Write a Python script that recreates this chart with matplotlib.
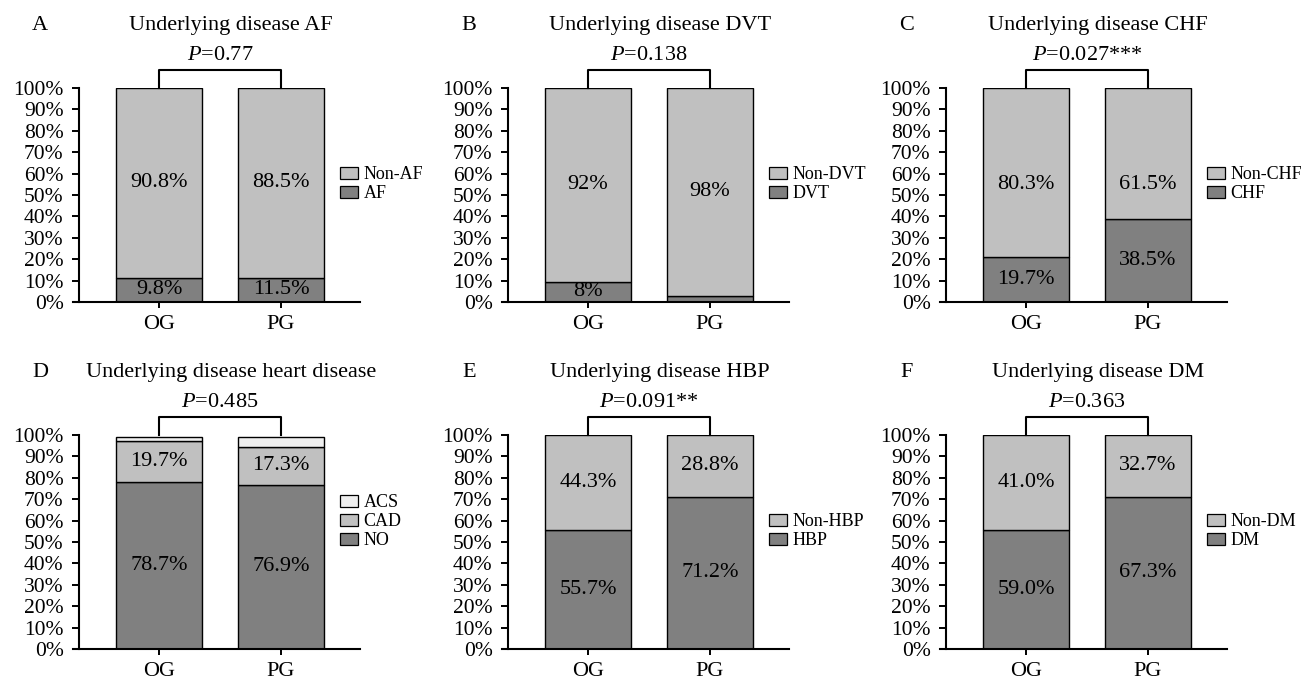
import matplotlib
matplotlib.use("Agg")
import matplotlib.pyplot as plt
from matplotlib.patches import Patch

plt.rcParams['font.family'] = ['Liberation Serif', 'DejaVu Serif']
plt.rcParams['mathtext.fontset'] = 'custom'
plt.rcParams['mathtext.it'] = 'Liberation Serif:italic'
plt.rcParams['mathtext.rm'] = 'Liberation Serif'

## Data (stack order: bottom -> top)
groups = ["OG", "PG"]

letters = ["A", "B", "C", "D", "E", "F"]
titles = ["Underlying disease AF", "Underlying disease DVT", "Underlying disease CHF",
          "Underlying disease heart disease", "Underlying disease HBP", "Underlying disease DM"]
pvalues = ["0.77", "0.138", "0.027***", "0.485", "0.091**", "0.363"]

seg_names = [["AF", "Non-AF"], ["DVT", "Non-DVT"], ["CHF", "Non-CHF"],
             ["NO", "CAD", "ACS"], ["HBP", "Non-HBP"], ["DM", "Non-DM"]]

# segment heights as drawn, per panel: [segment][group]
af_vals = [[11.4, 11.4], [88.6, 88.6]]
dvt_vals = [[9.4, 3.0], [90.6, 97.0]]
chf_vals = [[21.0, 38.8], [79.0, 61.2]]
heart_vals = [[77.9, 76.8], [19.3, 17.5], [1.9, 4.8]]
hbp_vals = [[55.7, 71.2], [44.3, 28.8]]
dm_vals = [[55.7, 71.2], [44.3, 28.8]]
panel_vals = [af_vals, dvt_vals, chf_vals, heart_vals, hbp_vals, dm_vals]

# printed labels, per panel: [segment][group]
af_labels = [["9.8%", "11.5%"], ["90.8%", "88.5%"]]
dvt_labels = [["8%", ""], ["92%", "98%"]]
chf_labels = [["19.7%", "38.5%"], ["80.3%", "61.5%"]]
heart_labels = [["78.7%", "76.9%"], ["19.7%", "17.3%"], ["", ""]]
hbp_labels = [["55.7%", "71.2%"], ["44.3%", "28.8%"]]
dm_labels = [["59.0%", "67.3%"], ["41.0%", "32.7%"]]
panel_labels = [af_labels, dvt_labels, chf_labels, heart_labels, hbp_labels, dm_labels]

## Style / layout
colors = ["#808080", "#c0c0c0", "#efefef"]
W, H = 1312, 680
lefts = [73, 502, 940]
tops = [88, 435]
ax_w, ax_h = 287, 214
# panel C prints its upper labels lower than the segment centre
top_label_y = {"C": 55}

fig = plt.figure(figsize=(W / 100, H / 100), dpi=100)

for k in range(6):
    r, c = divmod(k, 3)
    ax = fig.add_axes([lefts[c] / W, 1 - (tops[r] + ax_h) / H, ax_w / W, ax_h / H])
    vals = panel_vals[k]
    labs = panel_labels[k]
    x = list(range(len(groups)))
    bottom = [0.0] * len(groups)
    handles = []
    for s, seg in enumerate(vals):
        ax.bar(x, seg, bottom=bottom, width=0.7, color=colors[s],
               edgecolor='black', linewidth=1.0, zorder=2)
        for i in x:
            ymid = bottom[i] + seg[i] / 2
            if s == 1 and len(vals) == 2 and letters[k] in top_label_y:
                ymid = top_label_y[letters[k]]
            if labs[s][i]:
                ax.text(i, ymid, labs[s][i], ha='center', va='center', fontsize=16, zorder=3)
        bottom = [b + v for b, v in zip(bottom, seg)]
        handles.append(Patch(facecolor=colors[s], edgecolor='black', linewidth=0.9,
                             label=seg_names[k][s]))

    ax.set_xlim(-0.705, 1.648)
    ax.set_ylim(0, 100)
    ax.spines['left'].set_position(('data', -0.656))
    ax.set_xticks(x)
    ax.set_xticklabels(groups, fontsize=16)
    ax.set_yticks(range(0, 101, 10))
    ax.set_yticklabels([f"{t}%" for t in range(0, 101, 10)], fontsize=15.5)
    ax.tick_params(axis='y', length=5, width=1.4, pad=6)
    ax.tick_params(axis='x', length=4.5, width=1.4, pad=5)
    for sp in ['top', 'right']:
        ax.spines[sp].set_visible(False)
    for sp in ['left', 'bottom']:
        ax.spines[sp].set_linewidth(1.5)

    # significance bracket
    ax.plot([0, 0, 1, 1], [100, 108.2, 108.2, 100], color='black', lw=1.5,
            clip_on=False, zorder=4)
    ax.text(0.5, 115, r"$P$=" + pvalues[k], ha='center', va='center', fontsize=16)

    ax.text(0.55, 1.294, titles[k], transform=ax.transAxes, ha='center', va='center', fontsize=16)
    ax.text(-0.115, 1.294, letters[k], transform=ax.transAxes, ha='center', va='center', fontsize=16)

    ax.legend(handles=handles[::-1], loc='lower left', bbox_to_anchor=(0.93, 0.465),
              frameon=False, fontsize=13, borderpad=0, borderaxespad=0,
              handlelength=1.0, handleheight=0.6, handletextpad=0.3, labelspacing=0.12)

fig.savefig("out.png", dpi=100)
